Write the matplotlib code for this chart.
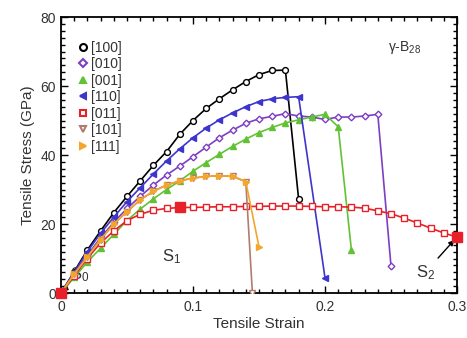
import matplotlib
matplotlib.use('Agg')
import matplotlib.pyplot as plt
from matplotlib.lines import Line2D
from matplotlib.ticker import MultipleLocator

plt.rcParams['font.family'] = ['Liberation Sans', 'DejaVu Sans']
plt.rcParams['mathtext.fontset'] = 'custom'
plt.rcParams['mathtext.rm'] = 'Liberation Sans'
plt.rcParams['mathtext.it'] = 'Liberation Sans'

# dados (deformação, tensão em GPa)
strain_100 = [0, .01, .02, .03, .04, .05, .06, .07, .08, .09, .10, .11, .12, .13, .14, .15, .16, .17, .18]
stress_100 = [0, 6.2, 12.5, 18, 23.3, 28, 32.5, 37, 41, 46, 50, 53.5, 56.3, 58.9, 61.3, 63.3, 64.5, 64.6, 27.3]

strain_010 = [0, .01, .02, .03, .04, .05, .06, .07, .08, .09, .10, .11, .12, .13, .14, .15, .16, .17, .18,
              .19, .20, .21, .22, .23, .24, .25]
stress_010 = [0, 5.5, 11, 16, 20.5, 24.5, 28, 31.3, 34.2, 36.8, 39.5, 42.3, 45, 47.2, 49.2, 50.5, 51.2, 52,
              51.3, 51, 50.3, 51, 51, 51.3, 51.8, 7.8]

strain_001 = [0, .01, .02, .03, .04, .05, .06, .07, .08, .09, .10, .11, .12, .13, .14, .15, .16, .17, .18,
              .19, .20, .21, .22]
stress_001 = [0, 4.5, 9, 13, 17, 21, 24.3, 27.3, 30, 32.5, 35.3, 37.8, 40.2, 42.5, 44.6, 46.5, 48, 49.3,
              50.2, 51, 51.8, 48.2, 12.5]

strain_110 = [0, .01, .02, .03, .04, .05, .06, .07, .08, .09, .10, .11, .12, .13, .14, .15, .16, .17, .18, .20]
stress_110 = [0, 6, 12, 17.3, 22, 26.5, 30.5, 34.5, 38.3, 41.8, 45, 47.8, 50.2, 52.2, 54, 55.5, 56.3, 56.7,
              56.9, 4.4]

strain_011 = [0, .01, .02, .03, .04, .05, .06, .07, .08, .09, .10, .11, .12, .13, .14, .15, .16, .17, .18,
              .19, .20, .21, .22, .23, .24, .25, .26, .27, .28, .29, .30]
stress_011 = [0, 5, 10, 14.5, 18, 21, 22.8, 24, 24.5, 24.8, 24.8, 24.9, 25, 25, 25.1, 25.1, 25.2, 25.2,
              25.2, 25.1, 25, 25, 24.9, 24.6, 23.8, 23, 21.7, 20.3, 18.8, 17.4, 16.2]

strain_101 = [0, .01, .02, .03, .04, .05, .06, .07, .08, .09, .10, .11, .12, .13, .14, .145]
stress_101 = [0, 5.5, 10.5, 15.5, 20, 23.6, 27, 29.5, 31.3, 32.5, 33.3, 33.8, 34, 33.8, 32.3, 0]

strain_111 = [0, .01, .02, .03, .04, .05, .06, .07, .08, .09, .10, .11, .12, .13, .14, .15]
stress_111 = [0, 5.5, 10.5, 15.5, 20, 23.6, 27, 29.5, 31.3, 32.5, 33.3, 33.8, 34, 33.8, 32.3, 13.4]

# estados S0, S1, S2
s_strain = [0, 0.09, 0.30]
s_stress = [0, 24.8, 16.2]
s_labels = ['S$_0$', 'S$_1$', 'S$_2$']

xticks = [0, 0.1, 0.2, 0.3]
xtick_labels = ['0', '0.1', '0.2', '0.3']
yticks = [0, 20, 40, 60, 80]

series = [
    ('[100]', strain_100, stress_100, 'black', 'o', 'white'),
    ('[010]', strain_010, stress_010, '#7d3fc2', 'D', 'white'),
    ('[001]', strain_001, stress_001, '#62c236', '^', '#62c236'),
    ('[110]', strain_110, stress_110, '#3d35cc', '<', '#3d35cc'),
    ('[011]', strain_011, stress_011, '#e8202a', 's', 'white'),
    ('[101]', strain_101, stress_101, '#b07c70', 'v', 'white'),
    ('[111]', strain_111, stress_111, '#f3a629', '>', '#f3a629'),
]

fig = plt.figure(figsize=(4.67, 3.38), dpi=100)
ax = fig.add_axes([0.1306, 0.1331, 0.848, 0.8166])

ordem = [5, 6, 4, 2, 1, 3, 0]
for i in ordem:
    nome, x, y, cor, mk, face = series[i]
    ms = 4.2 if mk != 'D' else 3.4
    ax.plot(x, y, color=cor, lw=1.2, marker=mk, ms=ms, mfc=face, mec=cor, mew=1.0, zorder=3 + i * 0.1)

ax.plot(s_strain, s_stress, ls='none', marker='s', ms=7, color='#e8202a', clip_on=False, zorder=6)

ax.set_xlim(0, 0.3)
ax.set_ylim(0, 80)
ax.set_xticks(xticks, xtick_labels)
ax.set_yticks(yticks)
ax.xaxis.set_minor_locator(MultipleLocator(0.01))
ax.yaxis.set_minor_locator(MultipleLocator(2))
ax.tick_params(which='both', direction='in', top=True, right=True, colors='black', labelcolor='#333333',
               labelsize=10, width=1)
ax.tick_params(which='major', length=5)
ax.tick_params(which='minor', length=3)
ax.tick_params(axis='x', pad=5)
for sp in ax.spines.values():
    sp.set_linewidth(1.3)

ax.set_xlabel('Tensile Strain', fontsize=11, color='#333333', labelpad=2)
ax.set_ylabel('Tensile Stress (GPa)', fontsize=11, color='#333333', labelpad=4)

handles = [Line2D([], [], ls='none', marker=s[4], ms=5 if s[4] != 'D' else 4, mfc=s[5], mec=s[3], mew=1.5)
           for s in series]
ax.legend(handles, [s[0] for s in series], loc='upper left', bbox_to_anchor=(0.02, 0.95), frameon=False,
          fontsize=10, handlelength=0.6, handletextpad=0.3, labelspacing=0.18, borderpad=0.2,
          labelcolor='#333333')

ax.text(0.26, 71.3, 'γ-B$_{28}$', fontsize=10, color='#333333', ha='center', va='center')

ax.annotate(s_labels[0], xy=(s_strain[0] + 0.001, s_stress[0] + 0.3), xytext=(0.007, 2.5),
            fontsize=12, color='#333333', ha='left', va='bottom',
            arrowprops=dict(arrowstyle='-|>', color='black', lw=1, shrinkA=0, shrinkB=0, mutation_scale=8))
ax.text(0.084, 10.5, s_labels[1], fontsize=12, color='#333333', ha='center', va='center')
ax.annotate(s_labels[2], xy=(s_strain[2] - 0.002, s_stress[2] - 0.8), xytext=(0.276, 6.0),
            fontsize=12, color='#333333', ha='center', va='center',
            arrowprops=dict(arrowstyle='-|>', color='black', lw=1, shrinkA=2, shrinkB=0, mutation_scale=8))

fig.savefig('out.png', dpi=100)
